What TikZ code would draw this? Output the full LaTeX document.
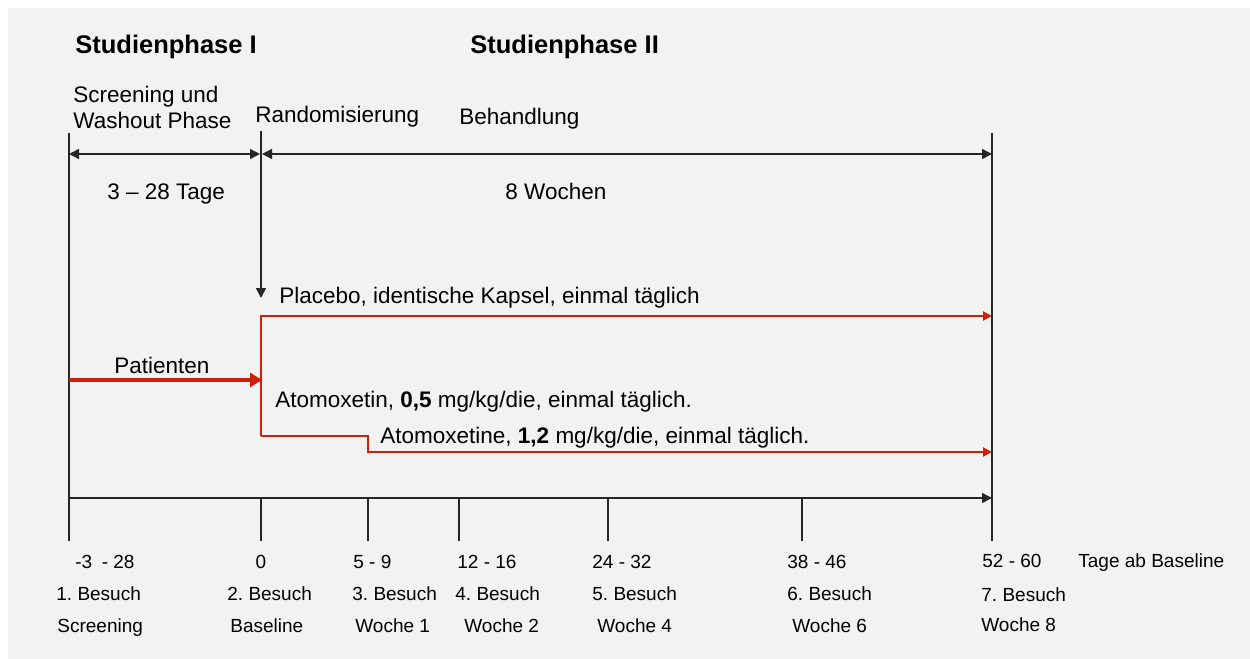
\documentclass[tikz,border=0pt]{standalone}
\usepackage{fontspec}
\setmainfont{Liberation Sans}
\usetikzlibrary{arrows.meta}
\definecolor{bggray}{HTML}{F2F2F2}
\definecolor{trialred}{RGB}{204,32,10}
\tikzset{
  lbl/.style={anchor=base west,inner sep=0pt,font=\fontsize{11.25}{13}\selectfont},
  head/.style={anchor=base west,inner sep=0pt,font=\fontsize{12.75}{15}\selectfont\bfseries},
  small/.style={anchor=base west,inner sep=0pt,font=\fontsize{9.5}{11}\selectfont},
  blk/.style={line width=0.7pt,draw=black!85},
  tipb/.style={-{Triangle[length=5pt,width=5pt]}},
  redln/.style={line width=1pt,draw=trialred},
  tipr/.style={-{Triangle[length=4.5pt,width=4.5pt]}},
}
\frenchspacing
\begin{document}
\begin{tikzpicture}[x=0.5pt,y=-0.5pt]
\useasboundingbox (0,0) rectangle (1250,659);
\fill[white] (0,0) rectangle (1250,659);
\fill[bggray] (8,8) rectangle (1250,659);

% headings
\node[head] (ph1) at (75,53) {Studienphase I};
\node[head] (ph2) at (470,53) {Studienphase II};
\node[lbl] (scr1) at (73,102) {Screening und};
\node[lbl] (scr2) at (73,128) {Washout Phase};
\node[lbl] (rand) at (255,122) {Randomisierung};
\node[lbl] (beh) at (459,124) {Behandlung};
\node[lbl] (tage) at (107,199) {3 -- 28 Tage};
\node[lbl] (woch) at (505,199) {8 Wochen};

% coordinates
\coordinate (Lt) at (69,133);
\coordinate (Lb) at (69,541);
\coordinate (Mt) at (261,131);
\coordinate (Ma) at (261,298);
\coordinate (Et) at (992,133);
\coordinate (Eb) at (992,541);
\coordinate (dL) at (69,154);
\coordinate (dM1) at (260,154);
\coordinate (dM2) at (262,154);
\coordinate (dE) at (992,154);
\coordinate (aL) at (69,498);
\coordinate (aE) at (992,498);

% vertical lines
\draw[blk] (Lt) -- (Lb);
\draw[blk] (Et) -- (Eb);
\draw[blk,tipb] (Mt) -- (Ma);
% dimension arrows
\draw[blk,{Triangle[length=5pt,width=5pt]}-{Triangle[length=5pt,width=5pt]}] (dL) -- (dM1);
\draw[blk,{Triangle[length=5pt,width=5pt]}-{Triangle[length=5pt,width=5pt]}] (dM2) -- (dE);
% time axis
\draw[blk,tipb] (aL) -- (aE);
\foreach \x/\n in {261/b,368/c,459/d,608/e,802/f}{
  \coordinate (t\n top) at (\x,498);
  \coordinate (t\n bot) at (\x,541);
  \draw[blk] (t\n top) -- (t\n bot);
}

% treatment arms
\coordinate (pS) at (69,380);
\coordinate (pE) at (262,380);
\draw[draw=trialred,line width=2pt,-{Triangle[length=6pt,width=7pt]}] (pS) -- (pE);
\node[lbl] (pat) at (114,373) {Patienten};

\coordinate (r0) at (261,436);
\coordinate (r1) at (261,316);
\coordinate (r2) at (992,316);
\coordinate (s1) at (368,436);
\coordinate (s2) at (368,452);
\coordinate (s3) at (992,452);
\draw[redln,tipr] (r0) -- (r1) -- (r2);
\draw[redln,tipr] (r0) -- (s1) -- (s2) -- (s3);

\node[lbl] (plac) at (279,303) {Placebo, identische Kapsel, einmal täglich};
\node[lbl] (ato1) at (275,407) {Atomoxetin, \textbf{0,5} mg/kg/die, einmal täglich.};
\node[lbl] (ato2) at (380,443) {Atomoxetine, \textbf{1,2} mg/kg/die, einmal täglich.};

% bottom labels
\node[small] (d1) at (75,568) {-3\enspace- 28};
\node[small] (v1) at (56,600) {1. Besuch};
\node[small] (w1) at (57,632) {Screening};
\node[small,anchor=base] (d2) at (261,568) {0};
\node[small] (v2) at (227,600) {2. Besuch};
\node[small] (w2) at (230,632) {Baseline};
\node[small] (d3) at (353,568) {5 - 9};
\node[small] (v3) at (352,600) {3. Besuch};
\node[small] (w3) at (355,632) {Woche 1};
\node[small] (d4) at (457,568) {12 - 16};
\node[small] (v4) at (455,600) {4. Besuch};
\node[small] (w4) at (464,632) {Woche 2};
\node[small] (d5) at (592,568) {24 - 32};
\node[small] (v5) at (592,600) {5. Besuch};
\node[small] (w5) at (597,632) {Woche 4};
\node[small] (d6) at (787,568) {38 - 46};
\node[small] (v6) at (787,600) {6. Besuch};
\node[small] (w6) at (792,632) {Woche 6};
\node[small] (d7) at (982,567) {52 - 60};
\node[small] (v7) at (981,601) {7. Besuch};
\node[small] (w7) at (981,631) {Woche 8};
\node[small] (tab) at (1078,567) {Tage ab Baseline};
\end{tikzpicture}
\end{document}
